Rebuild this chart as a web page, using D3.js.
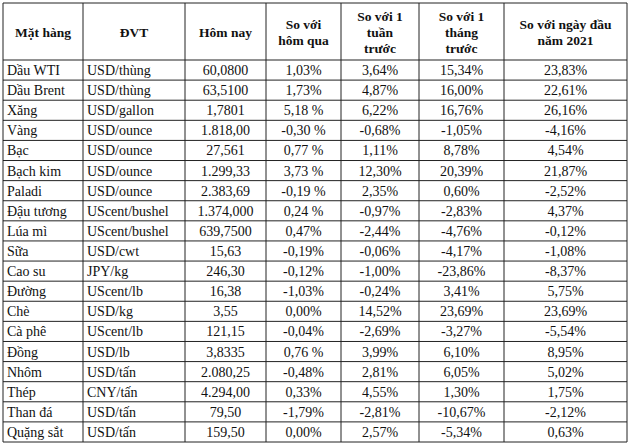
<!DOCTYPE html>
<html><head><meta charset="utf-8">
<script src="https://cdn.jsdelivr.net/npm/d3@7"></script>
<style>body{margin:0;background:#fff}</style>
</head><body><div id="chart"></div>
<script>
const headers = [["Mặt hàng"], ["ĐVT"], ["Hôm nay"], ["So với", "hôm qua"], ["So với 1", "tuần", "trước"], ["So với 1", "tháng", "trước"], ["So với ngày đầu", "năm 2021"]];
const items = ["Dầu WTI","Dầu Brent","Xăng","Vàng","Bạc","Bạch kim","Paladi","Đậu tương","Lúa mì","Sữa","Cao su","Đường","Chè","Cà phê","Đồng","Nhôm","Thép","Than đá","Quặng sắt"];
const units = ["USD/thùng","USD/thùng","USD/gallon","USD/ounce","USD/ounce","USD/ounce","USD/ounce","UScent/bushel","UScent/bushel","USD/cwt","JPY/kg","UScent/lb","USD/kg","UScent/lb","USD/lb","USD/tấn","CNY/tấn","USD/tấn","USD/tấn"];
const today = ["60,0800","63,5100","1,7801","1.818,00","27,561","1.299,33","2.383,69","1.374,000","639,7500","15,63","246,30","16,38","3,55","121,15","3,8335","2.080,25","4.294,00","79,50","159,50"];
const vsYesterday = ["1,03%","1,73%","5,18 %","-0,30 %","0,77 %","3,73 %","-0,19 %","0,24 %","0,47%","-0,19%","-0,12%","-1,03%","0,00%","-0,04%","0,76 %","-0,48%","0,33%","-1,79%","0,00%"];
const vsWeek = ["3,64%","4,87%","6,22%","-0,68%","1,11%","12,30%","2,35%","-0,97%","-2,44%","-0,06%","-1,00%","-0,24%","14,52%","-2,69%","3,99%","2,81%","4,55%","-2,81%","2,57%"];
const vsMonth = ["15,34%","16,00%","16,76%","-1,05%","8,78%","20,39%","0,60%","-2,83%","-4,76%","-4,17%","-23,86%","3,41%","23,69%","-3,27%","6,10%","6,05%","1,30%","-10,67%","-5,34%"];
const vsYearStart = ["23,83%","22,61%","26,16%","-4,16%","4,54%","21,87%","-2,52%","4,37%","-0,12%","-1,08%","-8,37%","5,75%","23,69%","-5,54%","8,95%","5,02%","1,75%","-2,12%","0,63%"];

const width = 630, height = 446;
const colEdges = [3, 83, 185, 266, 341, 419, 504, 627];
const tableTop = 3, headBottom = 60, tableBottom = 442;
const font = "'Liberation Serif', 'Times New Roman', serif";

const columns = [items, units, today, vsYesterday, vsWeek, vsMonth, vsYearStart];
const rows = d3.range(items.length).map(i => columns.map(c => c[i]));

const svg = d3.select("#chart").append("svg")
    .attr("width", width).attr("height", height);

const y = d3.scaleBand().domain(d3.range(items.length)).range([headBottom, tableBottom]);

// grid
const g = svg.append("g").attr("stroke", "#222").attr("stroke-width", 1);
colEdges.forEach(x => g.append("line").attr("x1", x).attr("x2", x).attr("y1", tableTop).attr("y2", tableBottom));
[tableTop, headBottom].concat(d3.range(items.length).map(i => y(i) + y.bandwidth()))
  .forEach(v => g.append("line").attr("x1", colEdges[0]).attr("x2", colEdges[7]).attr("y1", v).attr("y2", v));

// header
headers.forEach((lines, c) => {
  const cx = (colEdges[c] + colEdges[c + 1]) / 2;
  const cy = (tableTop + headBottom) / 2;
  const lh = 16;
  const t = svg.append("text")
      .attr("font-family", font).attr("font-weight", "bold").attr("font-size", 13.5)
      .attr("text-anchor", "middle").attr("fill", "#111");
  lines.forEach((l, k) => {
    t.append("tspan").attr("x", cx)
      .attr("y", cy + (k - (lines.length - 1) / 2) * lh + 5)
      .text(l);
  });
});

// body
rows.forEach((r, i) => {
  r.forEach((v, c) => {
    const left = c < 2;
    svg.append("text")
        .attr("font-family", font).attr("font-size", 14).attr("fill", "#111")
        .attr("text-anchor", left ? "start" : "middle")
        .attr("x", left ? colEdges[c] + 4 : (colEdges[c] + colEdges[c + 1]) / 2)
        .attr("y", y(i) + y.bandwidth() / 2 + 5)
        .text(v);
  });
});
</script>
</body></html>
